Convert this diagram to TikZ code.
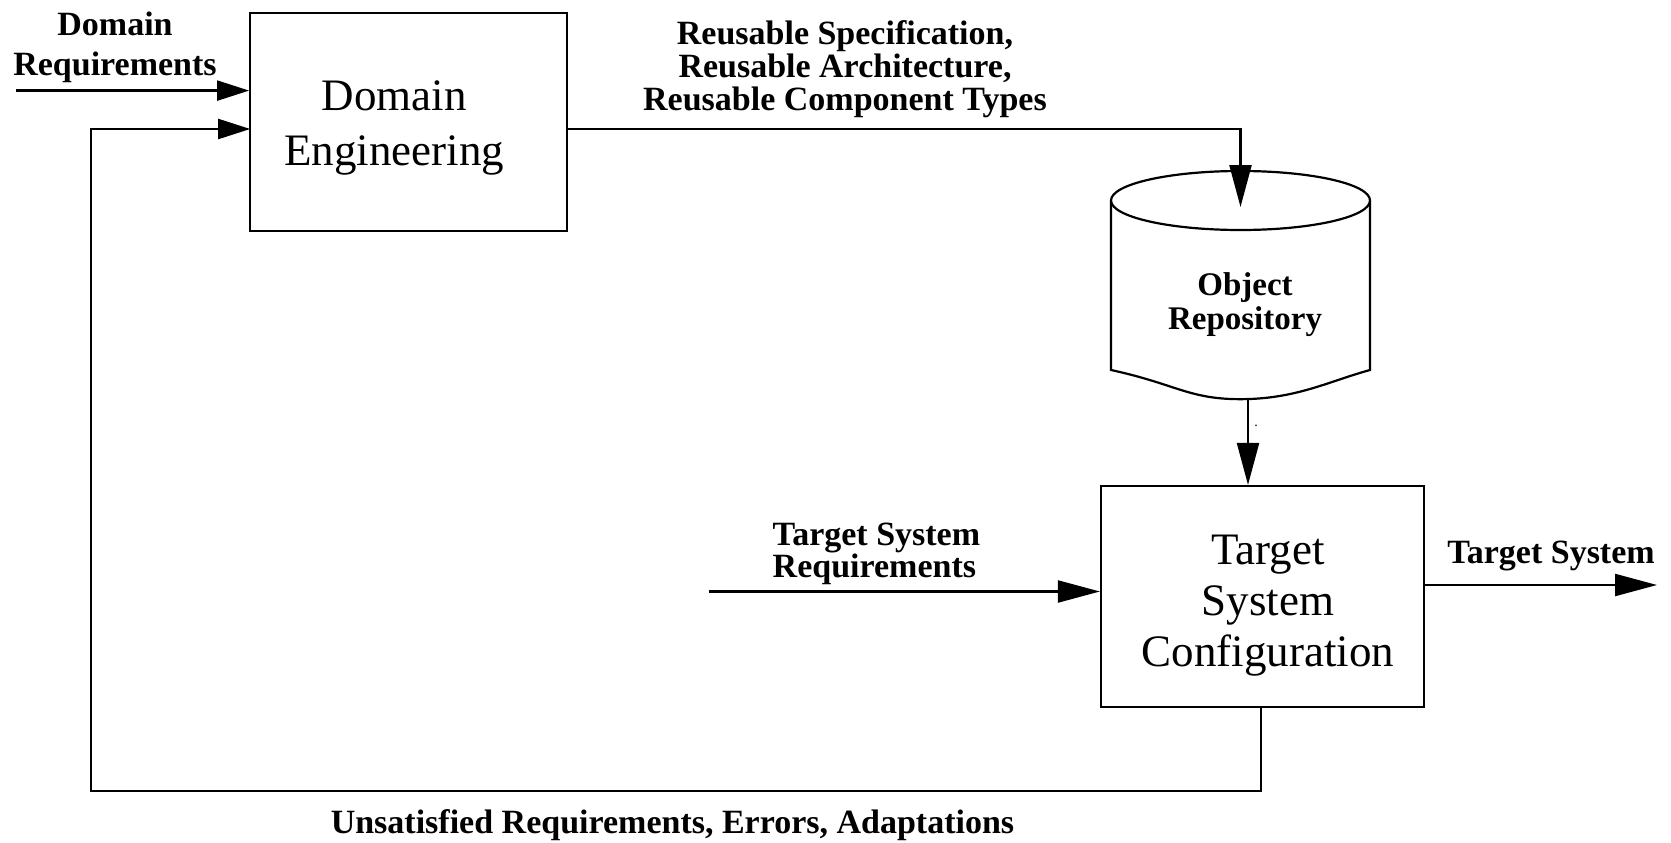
\documentclass[tikz,border=0pt]{standalone}
\usepackage{fontspec}
\setmainfont{Liberation Serif}
\usetikzlibrary{arrows.meta,calc}
\begin{document}
\begin{tikzpicture}[x=1pt,y=-1pt, line width=2.2pt,
  lbl/.style={font=\fontsize{34}{33}\selectfont\bfseries, inner sep=0pt, align=center},
  boxtxt/.style={font=\fontsize{45}{55}\selectfont, inner sep=0pt, align=center},
  proc/.style={draw, inner sep=0pt},
  arr/.style={-{Triangle[length=42pt,width=22pt]}},
  sarr/.style={-{Triangle[length=32pt,width=20pt]}}]
\useasboundingbox (0,0) rectangle (1671,843);

% boxes
\node[proc, minimum width=317pt, minimum height=218.5pt] (de) at (408.7,122) {};
\node[boxtxt] (detxt) at (394,128) {Domain\\Engineering};
\node[proc, minimum width=323pt, minimum height=220.6pt] (tsc) at (1262.5,596.3) {};
\node[boxtxt, font=\fontsize{45}{51}\selectfont] (tsctxt) at (1268,606) {Target\\System\\Configuration};

% cylinder (object repository)
\draw (1111,200.5) -- (1111,370) .. controls (1180,385) and (1190,401) .. (1250,399)
      .. controls (1300,397) and (1330,381) .. (1370,370) -- (1370,200.5);
\draw (1240.5,200.5) ellipse [x radius=129.5pt, y radius=29.5pt];
\node[lbl, font=\fontsize{33}{34}\selectfont\bfseries] (repo) at (1245,305) {Object\\Repository};
\coordinate (cyltop) at (1240.5,207);
\coordinate (cylbot) at (1248,399);

% domain requirements
\coordinate (dr) at (16,90.6);
\draw[sarr] (dr) -- (dr -| de.west);
\node[lbl, font=\fontsize{34}{40}\selectfont\bfseries] (drl) at (115,47) {Domain\\Requirements};

% feedback loop
\coordinate (fbin) at (250.2,129);
\coordinate (fbl) at (90.6,790.8);
\coordinate (fbr) at (1260.7,790.8);
\draw[sarr] (tsc.south -| fbr) -- (fbr) -- (fbl) |- (fbin);
\node[lbl] (fbtxt) at (672.5,825) {Unsatisfied Requirements, Errors, Adaptations};

% reusable outputs
\draw[arr] (de.east |- fbin) -| (cyltop);
\node[lbl] (reus) at (845,69) {Reusable Specification,\\Reusable Architecture,\\Reusable Component Types};

% repository to configuration
\draw[arr] (cylbot) -- (cylbot |- tsc.north);
\node[font=\fontsize{14}{14}\selectfont, inner sep=0pt] (dot) at (1256,426) {.};

% target system requirements
\coordinate (tsrin) at (708.7,591.5);
\draw[arr] (tsrin) -- (tsrin -| tsc.west);
\node[lbl, align=left, anchor=west, font=\fontsize{34}{29}\selectfont\bfseries] (tsrl) at (771.6,554) {Target System\\Requirements};

% target system output
\coordinate (tsout) at (1657,585);
\draw[arr] (tsout -| tsc.east) -- (tsout);
\node[lbl] (tsl) at (1551,556) {Target System};
\end{tikzpicture}
\end{document}
